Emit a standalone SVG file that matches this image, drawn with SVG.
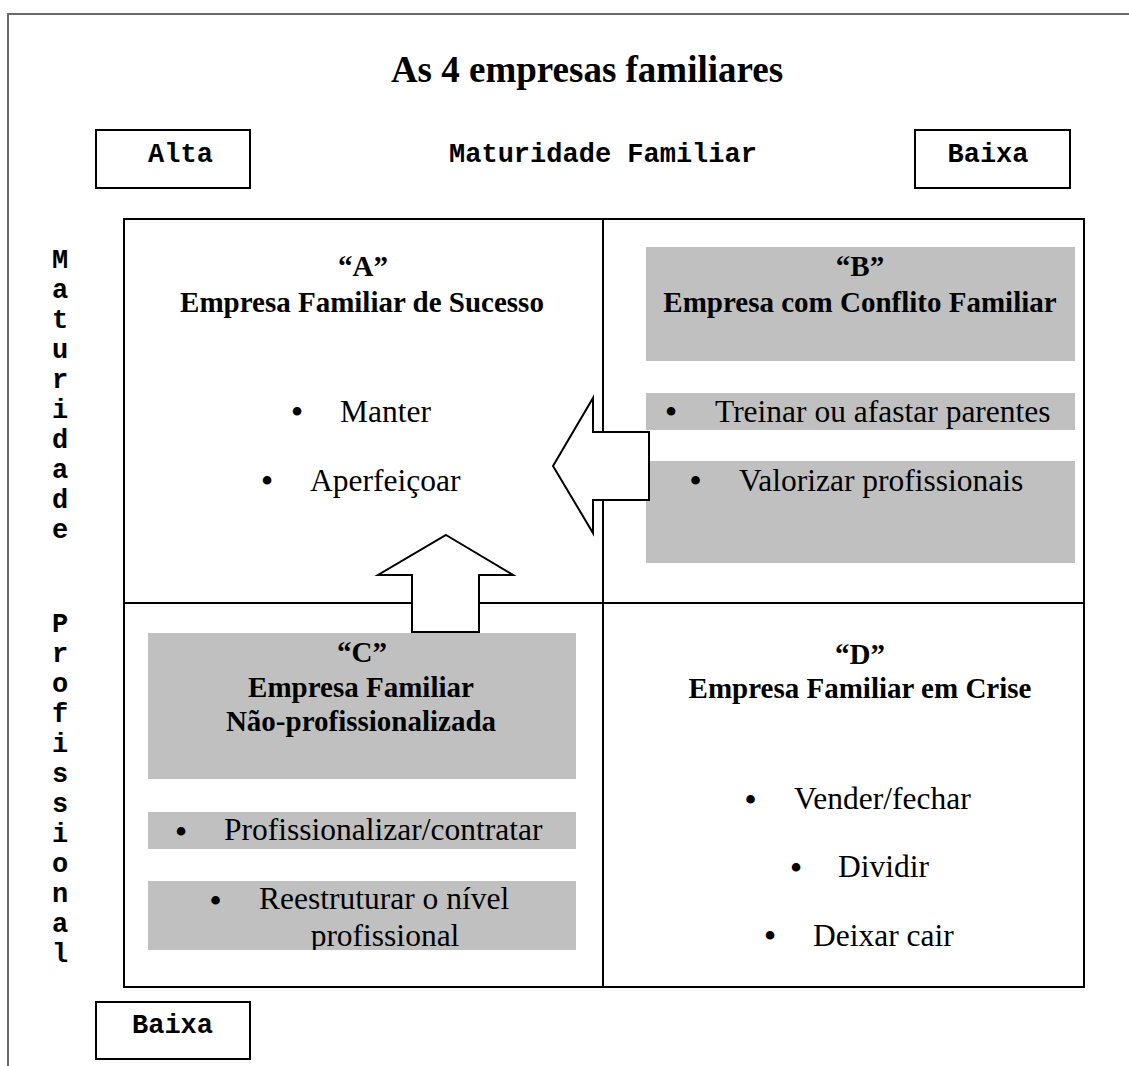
<svg xmlns="http://www.w3.org/2000/svg" width="1129" height="1066" viewBox="0 0 1129 1066">
  <defs>
    <style>
      .frame { fill: none; stroke: #6a6a6a; stroke-width: 2; }
      .box { fill: #ffffff; stroke: #000000; stroke-width: 2; }
      .grid { fill: none; stroke: #000000; stroke-width: 2; }
      .shade { fill: #c0c0c0; }
      .mono { font-family: "Liberation Mono", "Courier New", monospace; font-weight: bold; font-size: 27px; fill: #000; }
      .title { font-family: "Liberation Serif", "Times New Roman", serif; font-weight: bold; font-size: 37px; fill: #000; text-anchor: middle; }
      .head { font-family: "Liberation Serif", "Times New Roman", serif; font-weight: bold; font-size: 29px; fill: #000; text-anchor: middle; }
      .item { font-family: "Liberation Serif", "Times New Roman", serif; font-size: 31.5px; fill: #000; }
      .dot { font-family: "Liberation Serif", "Times New Roman", serif; font-size: 36px; fill: #000; text-anchor: middle; }
      .arrow { fill: #ffffff; stroke: #000000; stroke-width: 2; stroke-linejoin: miter; }
      .vert { text-anchor: middle; }
    </style>
    <clipPath id="clip-c2">
      <rect x="148" y="881" width="428" height="69"/>
    </clipPath>
  </defs>

  <rect width="1129" height="1066" fill="#ffffff"/>

  <!-- page frame: top and left edges only -->
  <g id="frame">
    <polyline class="frame" points="8,1066 8,14 1129,14"/>
  </g>

  <g id="title">
    <text class="title" x="587" y="82">As 4 empresas familiares</text>
  </g>

  <!-- horizontal axis -->
  <g id="axis-top">
    <g id="alta-top">
      <rect class="box" x="96" y="130" width="154" height="58"/>
      <text class="mono" x="180.5" y="162" text-anchor="middle">Alta</text>
    </g>
    <text id="maturidade-familiar" class="mono" x="603" y="162" text-anchor="middle">Maturidade Familiar</text>
    <g id="baixa-top">
      <rect class="box" x="915" y="130" width="155" height="58"/>
      <text class="mono" x="988" y="162" text-anchor="middle">Baixa</text>
    </g>
  </g>

  <!-- vertical axis, one letter per line -->
  <g id="axis-left" class="mono vert">
    <text x="60" y="268">M</text>
    <text x="60" y="298">a</text>
    <text x="60" y="328">t</text>
    <text x="60" y="358">u</text>
    <text x="60" y="388">r</text>
    <text x="60" y="418">i</text>
    <text x="60" y="448">d</text>
    <text x="60" y="478">a</text>
    <text x="60" y="508">d</text>
    <text x="60" y="538">e</text>
    <text x="60" y="632">P</text>
    <text x="60" y="662">r</text>
    <text x="60" y="692">o</text>
    <text x="60" y="722">f</text>
    <text x="60" y="752">i</text>
    <text x="60" y="782">s</text>
    <text x="60" y="812">s</text>
    <text x="60" y="842">i</text>
    <text x="60" y="872">o</text>
    <text x="60" y="902">n</text>
    <text x="60" y="932">a</text>
    <text x="60" y="962">l</text>
  </g>

  <g id="baixa-bottom">
    <rect class="box" x="96" y="1002" width="154" height="57"/>
    <text class="mono" x="172.5" y="1033" text-anchor="middle">Baixa</text>
  </g>

  <!-- 2x2 matrix -->
  <g id="matrix">
    <rect class="grid" x="124" y="219" width="960" height="768"/>
    <line class="grid" x1="603" y1="219" x2="603" y2="987"/>
    <line class="grid" x1="124" y1="603" x2="1084" y2="603"/>
  </g>

  <g id="quadrant-a">
    <text class="head" x="363" y="276">“A”</text>
    <text class="head" x="362" y="312">Empresa Familiar de Sucesso</text>
    <text class="dot" x="297" y="424">•</text>
    <text class="item" x="340" y="422">Manter</text>
    <text class="dot" x="267" y="493">•</text>
    <text class="item" x="310" y="491">Aperfeiçoar</text>
  </g>

  <g id="quadrant-b">
    <rect class="shade" x="646" y="247" width="429" height="114"/>
    <rect class="shade" x="646" y="393" width="429" height="37"/>
    <rect class="shade" x="646" y="461" width="429" height="102"/>
    <text class="head" x="860" y="276">“B”</text>
    <text class="head" x="860" y="312">Empresa com Conflito Familiar</text>
    <text class="dot" x="671" y="424">•</text>
    <text class="item" x="715" y="422">Treinar ou afastar parentes</text>
    <text class="dot" x="695.5" y="493">•</text>
    <text class="item" x="739" y="491">Valorizar profissionais</text>
  </g>

  <g id="quadrant-c">
    <rect class="shade" x="148" y="633" width="428" height="146"/>
    <rect class="shade" x="148" y="812" width="428" height="37"/>
    <rect class="shade" x="148" y="881" width="428" height="69"/>
    <text class="head" x="362" y="662">“C”</text>
    <text class="head" x="361" y="697">Empresa Familiar</text>
    <text class="head" x="361" y="731">Não-profissionalizada</text>
    <text class="dot" x="181" y="844">•</text>
    <text class="item" x="224" y="840">Profissionalizar/contratar</text>
    <text class="dot" x="215.5" y="913">•</text>
    <text class="item" x="259" y="909">Reestruturar o nível</text>
    <text class="item" x="385" y="946" text-anchor="middle" clip-path="url(#clip-c2)">profissional</text>
  </g>

  <g id="quadrant-d">
    <text class="head" x="860" y="664">“D”</text>
    <text class="head" x="860" y="698">Empresa Familiar em Crise</text>
    <text class="dot" x="750.5" y="812">•</text>
    <text class="item" x="794" y="809">Vender/fechar</text>
    <text class="dot" x="796" y="880">•</text>
    <text class="item" x="838" y="877">Dividir</text>
    <text class="dot" x="770" y="948">•</text>
    <text class="item" x="813" y="946">Deixar cair</text>
  </g>

  <!-- block arrows: B towards A, C towards A -->
  <g id="connectors">
    <polygon id="arrow-b-a" class="arrow" points="553,466 593,398 593,432 649,432 649,500 593,500 593,533"/>
    <polygon id="arrow-c-a" class="arrow" points="446,535 513,575 479,575 479,632 412,632 412,575 378,575"/>
  </g>
</svg>
